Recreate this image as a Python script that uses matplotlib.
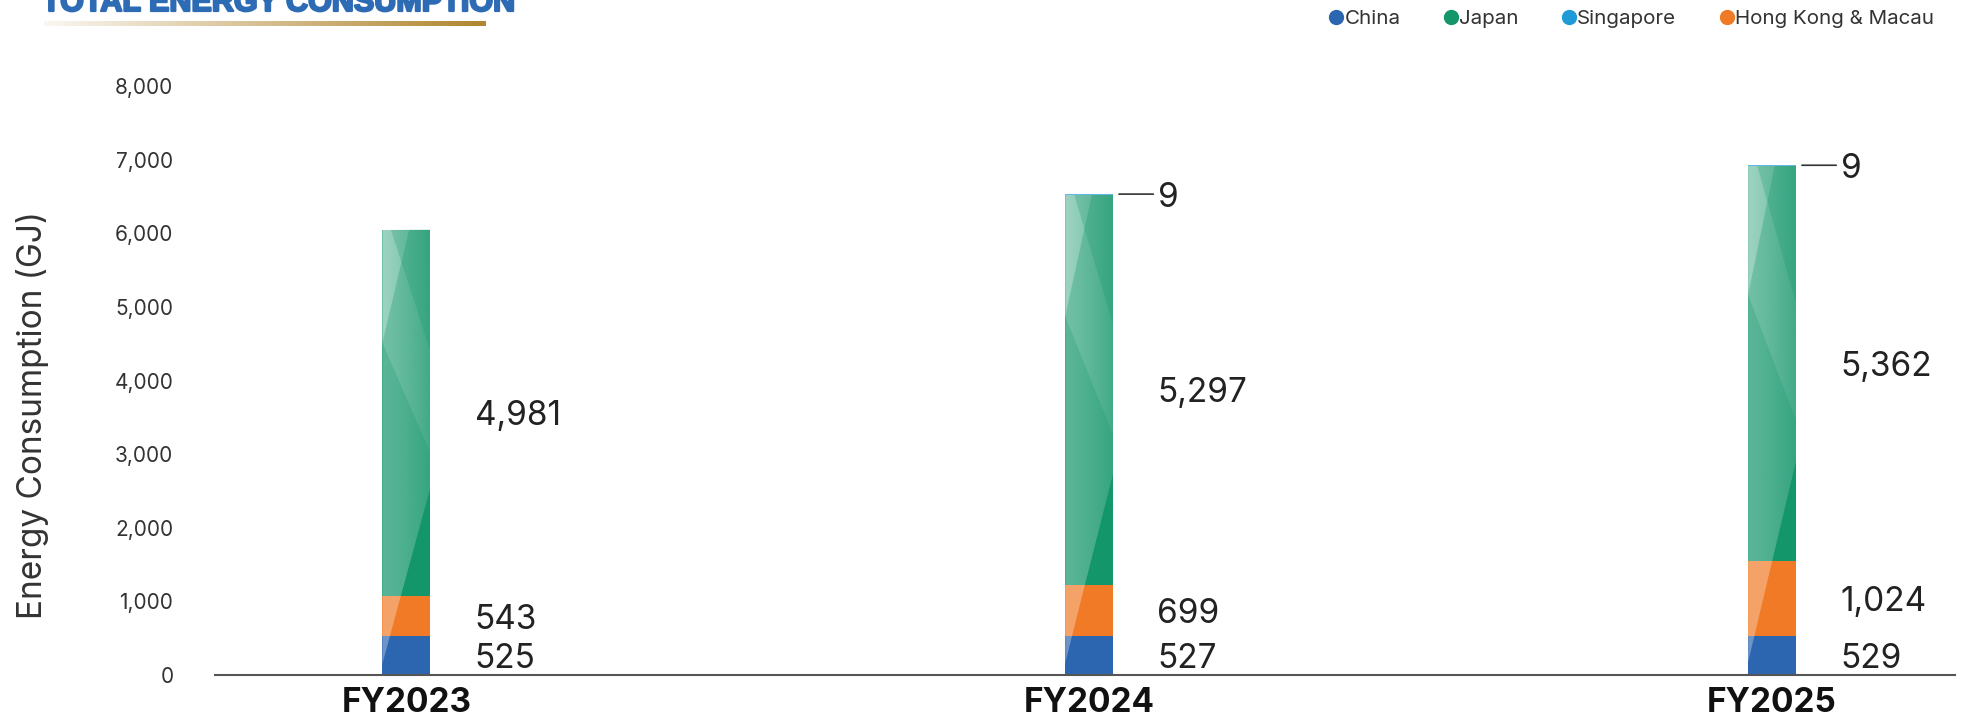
import numpy as np
import matplotlib.pyplot as plt
import matplotlib.patheffects as pe
from matplotlib.patches import Polygon, Rectangle
from matplotlib.lines import Line2D
from matplotlib.colors import to_rgb

# energy consumption by region (GJ)
years = ["FY2023", "FY2024", "FY2025"]
china = [525, 527, 529]
hk_macau = [543, 699, 1024]
japan = [4981, 5297, 5362]
singapore = [0, 9, 9]

c_china = "#2D66B0"
c_japan = "#14966B"
c_sing = "#1E9AD6"
c_hk = "#F07A26"
txt = "#222222"

plt.rcParams['font.family'] = ['Inter', 'DejaVu Sans']

fig = plt.figure(figsize=(19.84, 7.23), dpi=100)
ax = fig.add_axes([0.1084, 0.0664, 0.877, 0.8146])

x = np.arange(len(years))
w = 0.07
b_china = ax.bar(x, china, w, color=c_china, lw=0)
bot = np.array(china)
b_hk = ax.bar(x, hk_macau, w, bottom=bot, color=c_hk, lw=0)
bot = bot + np.array(hk_macau)
b_jp = ax.bar(x, japan, w, bottom=bot, color=c_japan, lw=0)
bot = bot + np.array(japan)
b_sg = ax.bar(x, singapore, w, bottom=bot, color=c_sing, lw=0, alpha=0.7)
totals = bot + np.array(singapore)


# glossy look on each stack
def overlay(clip, x0, T, pts, color, alpha):
    xy = [(x0 + fx * w, fy * T) for fx, fy in pts]
    p = Polygon(xy, closed=True, fc=color, alpha=alpha, lw=0, zorder=3)
    ax.add_patch(p)
    p.set_clip_path(clip)


for i in range(len(years)):
    x0 = x[i] - w / 2
    T = totals[i]
    jp_top = b_jp[i].get_y() + b_jp[i].get_height()
    stack = Rectangle((x0, 0), w, jp_top, transform=ax.transData)
    # light band left of the rising diagonal
    overlay(stack, x0, T, [(0, 0.025), (1, 0.42), (1, 1.1), (0, 1.1)], "white", 0.30)
    overlay(b_jp[i], x0, T, [(0, 0.746), (1, 0.50), (1, 1.1), (0, 1.1)], "white", 0.15)
    overlay(b_jp[i], x0, T, [(0, 0.746), (0.56, 1.0), (0, 1.0)], "white", 0.30)
    # darker towards the right edge of the green segment
    rgb = to_rgb(c_japan)
    grad = np.zeros((2, 100, 4))
    grad[..., :3] = rgb
    grad[..., 3] = np.linspace(0, 0.6, 100) ** 1.3
    im = ax.imshow(grad, extent=(x0, x0 + w, b_jp[i].get_y(), jp_top),
                   aspect='auto', zorder=4, interpolation='bilinear')
    im.set_clip_path(Polygon([(x0, 0.025 * T), (x0 + w, 0.42 * T), (x0 + w, T), (x0, T)],
                             closed=True, transform=ax.transData))
    overlay(b_jp[i], x0, T, [(0.18, 1.0), (1, 1.0), (1, 0.73)], c_japan, 0.25)

ax.set_xlim(-0.28, 2.268)
ax.set_ylim(0, 8000)

# value labels beside each segment
for series, bars in [(china, b_china), (hk_macau, b_hk), (japan, b_jp)]:
    for i, v in enumerate(series):
        r = bars[i]
        ax.annotate(f"{v:,}", xy=(x[i] + w / 2, r.get_y() + r.get_height() / 2),
                    xytext=(32, -2.5), textcoords='offset points',
                    ha='left', va='center', fontsize=24, color=txt)

for i, v in enumerate(singapore):
    if v <= 0:
        continue
    top = totals[i]
    ax.annotate("", xy=(x[i] + w / 2, top), xytext=(29, 0), textcoords='offset points',
                arrowprops=dict(arrowstyle='-', color="#333333", lw=1.2, shrinkA=0, shrinkB=4.3))
    ax.annotate(f"{v:,}", xy=(x[i] + w / 2, top), xytext=(32.5, -2.5), textcoords='offset points',
                ha='left', va='center', fontsize=24, color=txt)

ax.set_yticks(np.arange(0, 8001, 1000))
ax.set_yticklabels([f"{t:,}" for t in range(0, 8001, 1000)], fontsize=15, color="#333333")
ax.set_xticks(x)
ax.set_xticklabels(years, fontsize=24, fontweight='bold', color="#111111")
ax.tick_params(axis='y', length=0, pad=30)
ax.tick_params(axis='x', length=0, pad=9)
for s in ['top', 'right', 'left']:
    ax.spines[s].set_visible(False)
ax.spines['bottom'].set_color("#555555")
ax.spines['bottom'].set_linewidth(1.5)

fig.text(33 / 1984, 0.426, "Energy Consumption (GJ)", rotation=90, ha='center', va='center',
         fontsize=24, color="#333333")

# header
fig.text(42 / 1984, 1 - 11 / 723, "TOTAL ENERGY CONSUMPTION", ha='left', va='baseline',
         fontsize=22, fontweight='bold', color="#2E6BB5", family=['Liberation Sans'],
         path_effects=[pe.withStroke(linewidth=1.6, foreground="#2E6BB5")])
gax = fig.add_axes([44 / 1984, 1 - 26.5 / 723, 441 / 1984, 6 / 723])
ramp = np.linspace(0, 1, 256)
c0 = np.array(to_rgb("#FAF7F2"))
c1 = np.array(to_rgb("#B0862E"))
bar_img = (c0[None, :] * (1 - ramp[:, None]) + c1[None, :] * ramp[:, None])[None, :, :]
gax.imshow(bar_img, aspect='auto', extent=(0, 1, 0, 1))
gax.axis('off')

handles = [Line2D([], [], marker='o', ls='', color=c, markersize=10)
           for c in [c_china, c_japan, c_sing, c_hk]]
fig.legend(handles, ["China", "Japan", "Singapore", "Hong Kong & Macau"], ncol=4,
           loc='center right', bbox_to_anchor=(1944 / 1984, 1 - 19 / 723), frameon=False,
           fontsize=14.8, handlelength=0.6, handletextpad=0.1, columnspacing=2.15,
           borderpad=0, labelcolor="#333333")

fig.savefig("out.png", dpi=100)
